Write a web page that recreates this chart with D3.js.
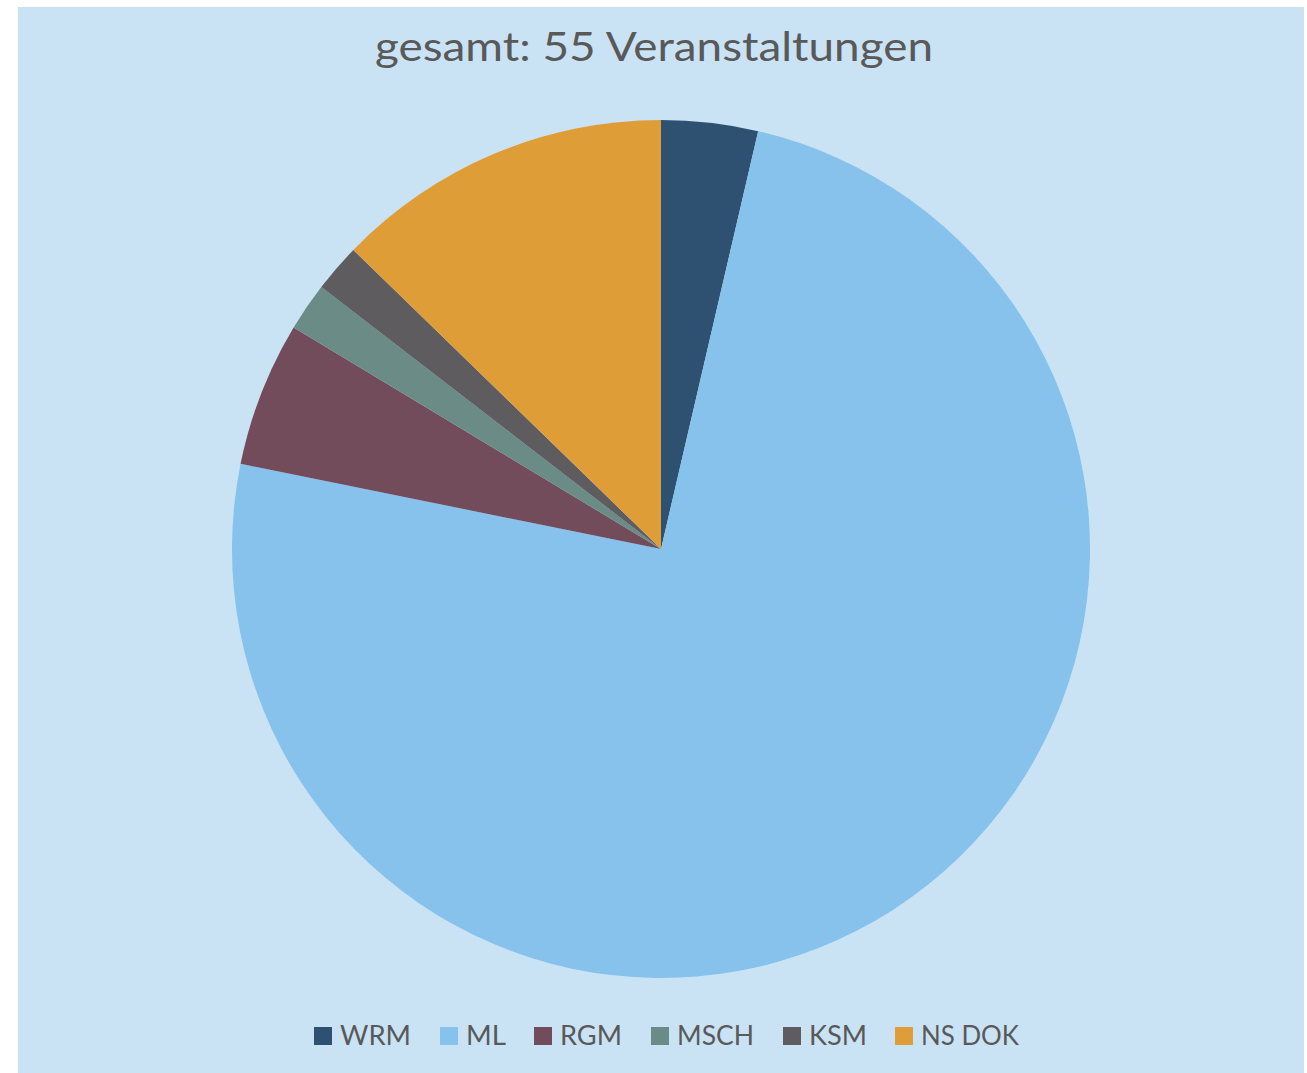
<!DOCTYPE html>
<html>
<head>
<meta charset="utf-8">
<script src="https://cdn.jsdelivr.net/npm/d3@7"></script>
<style>
  body { margin: 0; background: #fff; }
  text { font-family: Lato, "Open Sans", sans-serif; fill: #595959; }
</style>
</head>
<body>
<div id="graf"></div>
<script>
// Daten
const categorias = ['WRM', 'ML', 'RGM', 'MSCH', 'KSM', 'NS DOK']
const valores    = [2, 41, 3, 1, 1, 7]
const colores    = ['#2E5171', '#86C2EC', '#734C5B', '#6A8B86', '#5E5C5F', '#DF9D38']
const titulo     = 'gesamt: 55 Veranstaltungen'

const ancho_total = 1307
const alto_total  = 1073

const svg = d3.select('#graf').append('svg')
  .attr('width', ancho_total)
  .attr('height', alto_total)

// Fondo
svg.append('rect')
  .attr('x', 18).attr('y', 7)
  .attr('width', 1286).attr('height', 1066)
  .attr('fill', '#C9E3F5')

// Titel
svg.append('text')
  .attr('x', 654).attr('y', 61)
  .attr('text-anchor', 'middle')
  .attr('font-size', 40)
  .attr('textLength', 558)
  .attr('lengthAdjust', 'spacingAndGlyphs')
  .text(titulo)

// Torte
const radio = 429
const g = svg.append('g').attr('transform', 'translate(661, 549)')

const pie = d3.pie().sort(null).value(d => d.valor)
const arc = d3.arc().innerRadius(0).outerRadius(radio)
const datos = categorias.map((c, i) => ({ cat: c, valor: valores[i] }))
const color = d3.scaleOrdinal().domain(categorias).range(colores)

g.selectAll('path')
  .data(pie(datos))
  .enter().append('path')
  .attr('d', arc)
  .attr('fill', d => color(d.data.cat))

// Legende
const inicios = [314, 440, 534, 651, 783, 895]
const largos  = [71, 40, 62, 77, 58, 98]
const leyenda = svg.append('g')
categorias.forEach((c, i) => {
  const it = leyenda.append('g').attr('transform', `translate(${inicios[i]}, 1027)`)
  it.append('rect').attr('width', 18).attr('height', 18).attr('fill', color(c))
  it.append('text')
    .attr('x', 26).attr('y', 18)
    .attr('font-size', 27)
    .attr('textLength', largos[i])
    .attr('lengthAdjust', 'spacingAndGlyphs')
    .text(c)
})
</script>
</body>
</html>
